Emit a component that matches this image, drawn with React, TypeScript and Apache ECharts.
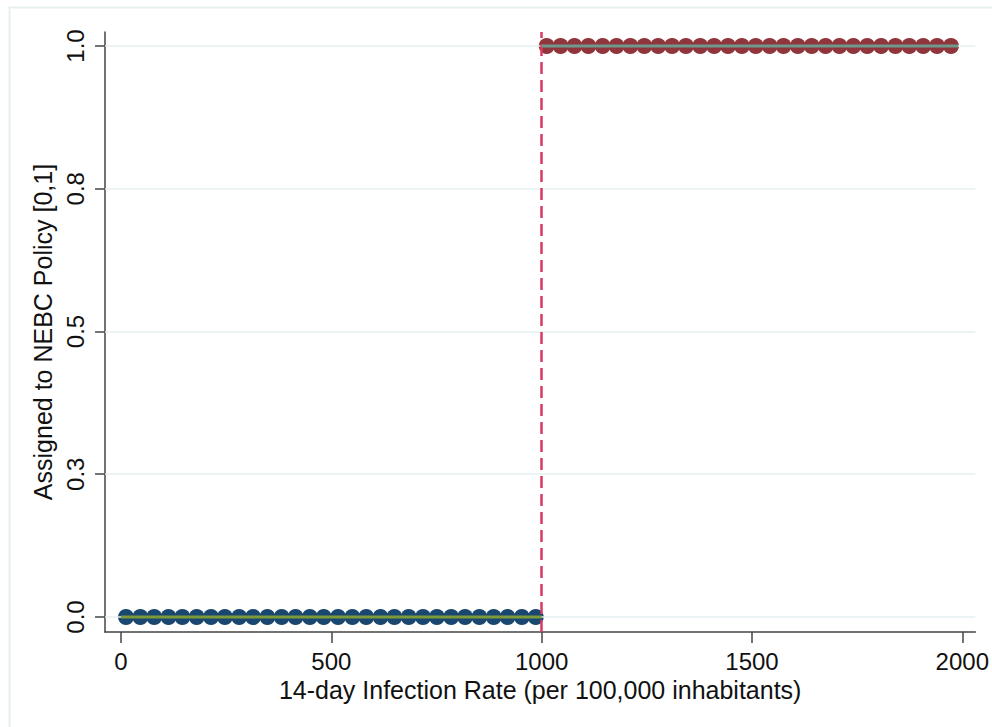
import React, { useEffect, useRef } from "react";
import * as echarts from "echarts";

// Binned means: x = 14-day infection rate, y = assigned to NEBC policy
const belowX = [12, 46, 79, 113, 146, 180, 214, 247, 281, 314, 348, 382, 415, 449, 482, 516, 550, 583, 617, 650, 684, 718, 751, 785, 818, 852, 886, 919, 953, 986];
const belowY = belowX.map(() => 0);
const aboveX = [1012, 1045, 1078, 1111, 1145, 1178, 1211, 1244, 1277, 1310, 1343, 1377, 1410, 1443, 1476, 1509, 1542, 1575, 1609, 1642, 1675, 1708, 1741, 1774, 1807, 1841, 1874, 1907, 1940, 1973];
const aboveY = aboveX.map(() => 1);

// Fitted lines on either side of the cutoff
const fitBelowX = [0, 1000];
const fitBelowY = [0, 0];
const fitAboveX = [1000, 1990];
const fitAboveY = [1, 1];

const cutoff = 1000;

const xTicks = [0, 500, 1000, 1500, 2000];
const xTickLabels = ["0", "500", "1000", "1500", "2000"];
const yTicks = [0, 0.25, 0.5, 0.75, 1];
const yTickLabels = ["0.0", "0.3", "0.5", "0.8", "1.0"];

const FONT = "Liberation Sans, Arial, sans-serif";

export default function App() {
  const ref = useRef<HTMLDivElement>(null);
  useEffect(() => {
    if (!ref.current) return;
    const chart = echarts.init(ref.current, null, { renderer: "svg" });
    const pairs = (xs: number[], ys: number[]) => xs.map((x, i) => [x, ys[i]]);
    const pick = (ticks: number[], labels: string[]) => (v: number) => {
      const i = ticks.findIndex((t) => Math.abs(t - v) < 1e-6);
      return i >= 0 ? labels[i] : "";
    };
    chart.setOption({
      animation: false,
      backgroundColor: "#ffffff",
      textStyle: { fontFamily: FONT },
      graphic: [
        {
          type: "rect",
          left: 7,
          top: 5,
          shape: { width: 1000, height: 740 },
          style: { fill: "none", stroke: "#e6eff0", lineWidth: 2 },
          silent: true,
          z: -10,
        },
      ],
      grid: { left: 105, right: 14, top: 32, bottom: 95 },
      xAxis: {
        type: "value",
        min: -38,
        max: 2031,
        name: "14-day Infection Rate (per 100,000 inhabitants)",
        nameLocation: "middle",
        nameGap: 45,
        nameTextStyle: { fontSize: 25, color: "#111", fontFamily: FONT },
        axisLine: { show: true, onZero: false, lineStyle: { color: "#444", width: 1.5 } },
        axisTick: { show: true, length: 11, customValues: xTicks, lineStyle: { color: "#444", width: 1.5 } },
        axisLabel: {
          customValues: xTicks,
          fontSize: 24,
          color: "#111",
          margin: 17,
          fontFamily: FONT,
          formatter: pick(xTicks, xTickLabels),
        },
        splitLine: { show: false },
      },
      yAxis: {
        type: "value",
        min: -0.0263,
        max: 1.0245,
        name: "Assigned to NEBC Policy [0,1]",
        nameLocation: "middle",
        nameGap: 43,
        nameRotate: 90,
        nameTextStyle: { fontSize: 25, color: "#111", fontFamily: FONT },
        axisLine: { show: true, onZero: false, lineStyle: { color: "#444", width: 1.5 } },
        axisTick: { show: true, length: 10, customValues: yTicks, lineStyle: { color: "#444", width: 1.5 } },
        axisLabel: {
          customValues: yTicks,
          rotate: 90,
          fontSize: 24,
          color: "#111",
          margin: 18,
          fontFamily: FONT,
          formatter: pick(yTicks, yTickLabels),
        },
        splitLine: { show: false },
      },
      series: [
        {
          type: "line",
          data: [],
          silent: true,
          z: 1,
          markLine: {
            silent: true,
            symbol: "none",
            label: { show: false },
            lineStyle: { color: "#e6eff0", width: 1.5, type: "solid" },
            data: yTicks.map((t) => ({ yAxis: t })),
          },
        },
        {
          type: "scatter",
          data: pairs(belowX, belowY),
          symbol: "circle",
          symbolSize: 16,
          itemStyle: { color: "#1a476f", opacity: 1 },
          z: 3,
        },
        {
          type: "scatter",
          data: pairs(aboveX, aboveY),
          symbol: "circle",
          symbolSize: 16,
          itemStyle: { color: "#90353b", opacity: 1 },
          z: 3,
        },
        {
          type: "line",
          data: pairs(fitBelowX, fitBelowY),
          showSymbol: false,
          symbol: "none",
          lineStyle: { color: "#7d9a3a", width: 3 },
          z: 5,
        },
        {
          type: "line",
          data: pairs(fitAboveX, fitAboveY),
          showSymbol: false,
          symbol: "none",
          lineStyle: { color: "#6e9a8e", width: 3 },
          z: 5,
          markLine: {
            silent: true,
            symbol: "none",
            label: { show: false },
            lineStyle: { color: "#d83a63", width: 2.5, type: [12, 6] },
            data: [{ xAxis: cutoff }],
          },
        },
      ],
    });
    return () => chart.dispose();
  }, []);
  return (
    <div
      ref={ref}
      style={{ position: "fixed", left: 0, top: 0, width: 992, height: 727 }}
    />
  );
}
